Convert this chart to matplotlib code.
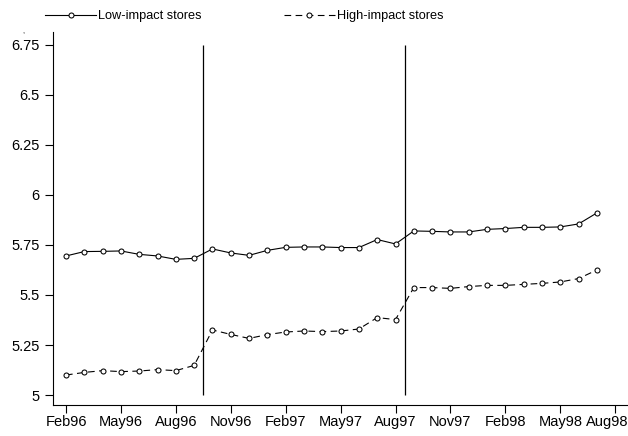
import matplotlib
matplotlib.use("Agg")
import matplotlib.pyplot as plt
from matplotlib.ticker import FixedLocator
from matplotlib.transforms import ScaledTranslation

plt.rcParams["font.family"] = ["Liberation Sans", "DejaVu Sans"]

# monthly series, Feb96 .. Jul98
months = [
    "Feb96", "Mar96", "Apr96", "May96", "Jun96", "Jul96", "Aug96", "Sep96",
    "Oct96", "Nov96", "Dec96", "Jan97", "Feb97", "Mar97", "Apr97", "May97",
    "Jun97", "Jul97", "Aug97", "Sep97", "Oct97", "Nov97", "Dec97", "Jan98",
    "Feb98", "Mar98", "Apr98", "May98", "Jun98", "Jul98",
]
low_impact = [
    5.695, 5.717, 5.718, 5.720, 5.703, 5.695, 5.678, 5.683,
    5.730, 5.710, 5.698, 5.723, 5.738, 5.740, 5.740, 5.737,
    5.737, 5.777, 5.755, 5.820, 5.818, 5.815, 5.815, 5.828,
    5.832, 5.838, 5.838, 5.840, 5.855, 5.910,
]
high_impact = [
    5.100, 5.113, 5.122, 5.117, 5.120, 5.127, 5.122, 5.148,
    5.325, 5.303, 5.283, 5.302, 5.315, 5.320, 5.317, 5.320,
    5.330, 5.387, 5.377, 5.537, 5.537, 5.533, 5.542, 5.548,
    5.548, 5.553, 5.558, 5.565, 5.582, 5.625,
]
tick_labels = ["Feb96", "May96", "Aug96", "Nov96", "Feb97", "May97",
               "Aug97", "Nov97", "Feb98", "May98", "Aug98"]
y_ticks = [5, 5.25, 5.5, 5.75, 6, 6.25, 6.5, 6.75]
y_tick_labels = ["5", "5.25", "5.5", "5.75", "6", "6.25", "6.5", "6.75"]
# events fall between Sep96/Oct96 and Aug97/Sep97
event_positions = [7.5, 18.5]

x = list(range(len(months)))
tick_pos = [3 * i for i in range(len(tick_labels))]

fig = plt.figure(figsize=(6.28, 4.36), dpi=100)
ax = fig.add_axes([0.0844, 0.071, 0.9156, 0.856])

marker_kw = dict(marker="o", markersize=3.6, markerfacecolor="white",
                 markeredgecolor="black", markeredgewidth=0.75)
ax.plot(x, low_impact, color="black", lw=0.8, label="Low-impact stores",
        **marker_kw)
ax.plot(x, high_impact, color="black", lw=0.8, dashes=(6, 4),
        label="High-impact stores", **marker_kw)

for pos in event_positions:
    ax.vlines(pos, 5, 6.75, color="black", lw=0.9)

ax.set_xlim(-0.71, 30.7)
ax.set_ylim(4.95, 6.815)
ax.xaxis.set_major_locator(FixedLocator(tick_pos))
ax.set_xticklabels(tick_labels)
ax.set_yticks(y_ticks)
ax.set_yticklabels(y_tick_labels)

for side in ("top", "right"):
    ax.spines[side].set_visible(False)
for side in ("left", "bottom"):
    ax.spines[side].set_linewidth(0.8)
ax.tick_params(axis="both", labelsize=10.5, length=5.5, width=0.8,
               colors="black")
ax.tick_params(axis="y", pad=4)
ax.tick_params(axis="x", pad=2)

# last label is pulled left so it stays inside the figure
last = ax.get_xticklabels()[-1]
last.set_transform(last.get_transform()
                   + ScaledTranslation(-8 / 100, 0, fig.dpi_scale_trans))

fig.text(0.036, 0.925, ",", fontsize=5)

fig.legend(loc="upper left", bbox_to_anchor=(0.068, 0.982), ncol=2,
           frameon=False, fontsize=9.2, handlelength=4.0, handletextpad=0.15,
           columnspacing=6.4, borderpad=0.2, borderaxespad=0)

fig.savefig("out.png", dpi=100)
